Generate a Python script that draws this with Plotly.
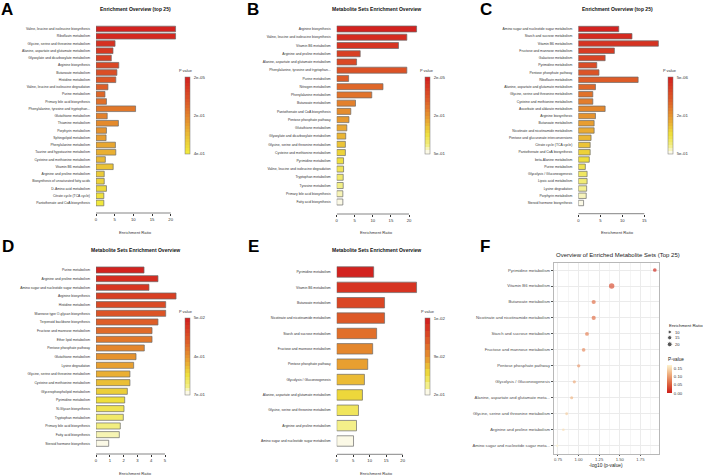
import math
import plotly.graph_objects as go

W, H = 708, 476
FONT = "Liberation Sans, Arial, Helvetica, sans-serif"

# ---------------- data ----------------
A_names = ["Valine, leucine and isoleucine biosynthesis", "Riboflavin metabolism",
           "Glycine, serine and threonine metabolism", "Alanine, aspartate and glutamate metabolism",
           "Glyoxylate and dicarboxylate metabolism", "Arginine biosynthesis", "Butanoate metabolism",
           "Histidine metabolism", "Valine, leucine and isoleucine degradation", "Purine metabolism",
           "Primary bile acid biosynthesis", "Phenylalanine, tyrosine and tryptophan...",
           "Glutathione metabolism", "Thiamine metabolism", "Porphyrin metabolism",
           "Sphingolipid metabolism", "Phenylalanine metabolism", "Taurine and hypotaurine metabolism",
           "Cysteine and methionine metabolism", "Vitamin B6 metabolism", "Arginine and proline metabolism",
           "Biosynthesis of unsaturated fatty acids", "D-Amino acid metabolism",
           "Citrate cycle (TCA cycle)", "Pantothenate and CoA biosynthesis"]
A_ratio = [21.3, 21.3, 5.1, 4.55, 4.1, 6.1, 5.6, 5.3, 3.2, 2.4, 2.8, 10.6, 3.0, 6.0, 2.8, 2.7,
           5.2, 5.3, 2.5, 4.6, 2.2, 2.2, 2.8, 2.1, 2.1]
A_pvalue = [2.1e-05, 4.5e-05, 0.0021, 0.0093, 0.018, 0.025, 0.034, 0.046, 0.071, 0.098, 0.13, 0.16,
            0.19, 0.21, 0.23, 0.25, 0.26, 0.28, 0.30, 0.31, 0.33, 0.34, 0.36, 0.38, 0.41]

B_names = ["Arginine biosynthesis", "Valine, leucine and isoleucine biosynthesis", "Vitamin B6 metabolism",
           "Arginine and proline metabolism", "Alanine, aspartate and glutamate metabolism",
           "Phenylalanine, tyrosine and tryptophan...", "Purine metabolism", "Nitrogen metabolism",
           "Phenylalanine metabolism", "Butanoate metabolism", "Pantothenate and CoA biosynthesis",
           "Pentose phosphate pathway", "Glutathione metabolism", "Glyoxylate and dicarboxylate metabolism",
           "Glycine, serine and threonine metabolism", "Cysteine and methionine metabolism",
           "Pyrimidine metabolism", "Valine, leucine and isoleucine degradation", "Tryptophan metabolism",
           "Tyrosine metabolism", "Primary bile acid biosynthesis", "Fatty acid biosynthesis"]
B_ratio = [22.1, 19.4, 17.1, 6.5, 5.5, 19.4, 3.3, 12.8, 9.7, 5.2, 3.9, 3.4, 2.8, 2.5, 2.4, 2.4,
           1.9, 1.9, 1.8, 1.8, 1.7, 1.7]
B_pvalue = [1.8e-05, 6.2e-05, 0.00041, 0.0076, 0.021, 0.039, 0.058, 0.081, 0.11, 0.15, 0.19, 0.24,
            0.27, 0.31, 0.34, 0.37, 0.40, 0.42, 0.44, 0.46, 0.48, 0.51]

C_names = ["Amino sugar and nucleotide sugar metabolism", "Starch and sucrose metabolism",
           "Vitamin B6 metabolism", "Fructose and mannose metabolism", "Galactose metabolism",
           "Pyrimidine metabolism", "Pentose phosphate pathway", "Riboflavin metabolism",
           "Alanine, aspartate and glutamate metabolism", "Glycine, serine and threonine metabolism",
           "Cysteine and methionine metabolism", "Ascorbate and aldarate metabolism", "Arginine biosynthesis",
           "Butanoate metabolism", "Nicotinate and nicotinamide metabolism",
           "Pentose and glucuronate interconversions", "Citrate cycle (TCA cycle)",
           "Pantothenate and CoA biosynthesis", "beta-Alanine metabolism", "Purine metabolism",
           "Glycolysis / Gluconeogenesis", "Lipoic acid metabolism", "Lysine degradation",
           "Porphyrin metabolism", "Steroid hormone biosynthesis"]
C_ratio = [9.2, 12.2, 18.2, 8.2, 6.1, 4.2, 4.7, 13.6, 3.9, 3.3, 3.3, 6.1, 3.9, 3.6, 3.6, 2.9, 2.7,
           2.7, 2.5, 1.6, 2.0, 2.0, 1.9, 1.8, 1.2]
C_pvalue = [4.9e-06, 2.3e-05, 8.1e-05, 0.00052, 0.0034, 0.012, 0.027, 0.046, 0.072, 0.10, 0.13, 0.16,
            0.19, 0.22, 0.25, 0.28, 0.31, 0.33, 0.36, 0.38, 0.40, 0.42, 0.44, 0.47, 0.52]

D_names = ["Purine metabolism", "Arginine and proline metabolism", "Amino sugar and nucleotide sugar metabolism",
           "Arginine biosynthesis", "Histidine metabolism", "Mannose type O-glycan biosynthesis",
           "Terpenoid backbone biosynthesis", "Fructose and mannose metabolism", "Ether lipid metabolism",
           "Pentose phosphate pathway", "Glutathione metabolism", "Lysine degradation",
           "Glycine, serine and threonine metabolism", "Cysteine and methionine metabolism",
           "Glycerophospholipid metabolism", "Pyrimidine metabolism", "N-Glycan biosynthesis",
           "Tryptophan metabolism", "Primary bile acid biosynthesis", "Fatty acid biosynthesis",
           "Steroid hormone biosynthesis"]
D_ratio = [3.48, 4.49, 3.84, 5.8, 5.05, 5.05, 4.49, 4.06, 4.06, 3.5, 2.9, 2.73, 2.46, 2.46, 2.27,
           2.08, 2.03, 1.98, 1.76, 1.69, 0.92]
D_pvalue = [0.048, 0.071, 0.094, 0.12, 0.15, 0.18, 0.21, 0.25, 0.29, 0.33, 0.37, 0.41, 0.45, 0.49,
            0.53, 0.56, 0.59, 0.62, 0.65, 0.68, 0.71]

E_names = ["Pyrimidine metabolism", "Vitamin B6 metabolism", "Butanoate metabolism",
           "Nicotinate and nicotinamide metabolism", "Starch and sucrose metabolism",
           "Fructose and mannose metabolism", "Pentose phosphate pathway", "Glycolysis / Gluconeogenesis",
           "Alanine, aspartate and glutamate metabolism", "Glycine, serine and threonine metabolism",
           "Arginine and proline metabolism", "Amino sugar and nucleotide sugar metabolism"]
E_ratio = [11.2, 24.2, 14.5, 14.5, 12.1, 10.9, 9.4, 8.4, 7.8, 6.6, 6.0, 5.1]
E_pvalue = [0.0119, 0.0397, 0.0656, 0.0656, 0.0791, 0.0869, 0.0998, 0.1127, 0.1213, 0.1396, 0.1531, 0.182]

F_size_legend = [10, 15, 20]
F_cbar_ticks = [0.0, 0.05, 0.10, 0.15]

# ---------------- styling helpers ----------------
HEAT_A = [(0.0, '#d3221f'), (0.3, '#dc5727'), (0.6, '#e6962d'), (0.8, '#ebc536'), (1.0, '#f1e83c')]
HEAT = [(0.0, '#d3221f'), (0.3, '#de5e28'), (0.55, '#e8a030'), (0.75, '#eede3c'),
        (0.9, '#f2ee80'), (1.0, '#fbf9e6')]


def hex2rgb(h):
    h = h.lstrip('#')
    return tuple(int(h[i:i + 2], 16) for i in (0, 2, 4))


def ramp(stops, n):
    out = []
    for k in range(n):
        t = k / (n - 1) if n > 1 else 0.0
        for (p0, c0), (p1, c1) in zip(stops[:-1], stops[1:]):
            if p0 <= t <= p1 + 1e-9:
                f = (t - p0) / (p1 - p0)
                a, b = hex2rgb(c0), hex2rgb(c1)
                out.append('rgb(%d,%d,%d)' % tuple(round(a[i] + (b[i] - a[i]) * f) for i in range(3)))
                break
    return out


def px(x):
    return x / W


def py(y):
    return 1 - y / H


def ann(text, x, y, size, bold=False, xanchor='center', color='#111111'):
    return dict(text=("<b>%s</b>" % text) if bold else text, x=px(x), y=py(y),
                xref='paper', yref='paper', showarrow=False, xanchor=xanchor, yanchor='middle',
                font=dict(family=FONT, size=size, color=color))


panels = [
    dict(names=A_names, ratio=A_ratio, p=A_pvalue, stops=HEAT_A, x0=96, ppu=3.735, xmax=22.5,
         row0=29, rowN=203, axis_y=213, ticks=[0, 5, 10, 15, 20], bw=0.78, cbx=185, cby=77,
         title="Enrichment Overview (top 25)", tx=135, ty=8.5, ex=135, ey=232, pvx=185, pvy=70,
         letter="A", lx=7, ly=9),
    dict(names=B_names, ratio=B_ratio, p=B_pvalue, stops=HEAT, x0=336.7, ppu=3.615, xmax=23,
         row0=29, rowN=202, axis_y=214, ticks=[0, 5, 10, 15, 20], bw=0.73, cbx=425.3, cby=77,
         title="Metabolite Sets Enrichment Overview", tx=376, ty=9, ex=376, ey=232, pvx=426.3, pvy=70,
         letter="B", lx=253, ly=9),
    dict(names=C_names, ratio=C_ratio, p=C_pvalue, stops=HEAT, x0=578.3, ppu=4.4, xmax=19,
         row0=29, rowN=203, axis_y=213.7, ticks=[0, 5, 10, 15], bw=0.75, cbx=667.7, cby=77,
         title="Enrichment Overview (top 25)", tx=617.7, ty=8.5, ex=617.7, ey=232, pvx=669, pvy=70,
         letter="C", lx=486, ly=9),
    dict(names=D_names, ratio=D_ratio, p=D_pvalue, stops=HEAT, x0=96, ppu=13.8, xmax=6.2,
         row0=270, rowN=443.3, axis_y=454, ticks=[0, 1, 2, 3, 4, 5], bw=0.7, cbx=185, cby=317.7,
         title="Metabolite Sets Enrichment Overview", tx=135, ty=250, ex=135, ey=473, pvx=185, pvy=311,
         letter="D", lx=7.5, ly=246),
    dict(names=E_names, ratio=E_ratio, p=E_pvalue, stops=HEAT, x0=336.7, ppu=3.3, xmax=25,
         row0=272, rowN=441, axis_y=454.3, ticks=[0, 5, 10, 15, 20], bw=0.68, cbx=425.3, cby=318,
         title="Metabolite Sets Enrichment Overview", tx=376, ty=250, ex=376, ey=473, pvx=427.7, pvy=311,
         letter="E", lx=253, ly=246),
]

fig = go.Figure()
layout = dict(width=W, height=H, margin=dict(l=0, r=0, t=0, b=0), paper_bgcolor='white',
              plot_bgcolor='rgba(0,0,0,0)', showlegend=False, template='none',
              font=dict(family=FONT, color='#222222'))
annotations = []
shapes = []

for i, P in enumerate(panels, start=1):
    sfx = '' if i == 1 else str(i)
    n = len(P['names'])
    s = (P['rowN'] - P['row0']) / (n - 1)
    top_px = P['row0'] - 0.7 * s
    bot_val = (n - 1) + (P['axis_y'] - P['rowN']) / s
    colors = ramp(P['stops'], n)
    cscale = []
    for k in range(n):
        c = colors[n - 1 - k]
        cscale.append([k / n, c])
        cscale.append([(k + 1) / n, c])
    cval = [n - 1 - r for r in range(n)]
    mid = (n - 1) // 2
    fig.add_trace(go.Bar(
        x=P['ratio'], y=P['names'], orientation='h', width=P['bw'],
        marker=dict(color=cval, coloraxis='coloraxis' + sfx, line=dict(color='#6a6a6a', width=0.7)),
        xaxis='x' + sfx, yaxis='y' + sfx, hoverinfo='x+y'))
    layout['xaxis' + sfx] = dict(
        domain=[px(P['x0']), px(P['x0'] + P['xmax'] * P['ppu'])], range=[0, P['xmax']],
        anchor='y' + sfx, showgrid=False, zeroline=False, showline=False,
        tickmode='array', tickvals=P['ticks'], ticktext=[str(t) for t in P['ticks']],
        ticks='outside', ticklen=2, tickwidth=0.6, tickcolor='#333333',
        tickfont=dict(family=FONT, size=4.2, color='#333333'))
    layout['yaxis' + sfx] = dict(
        domain=[py(P['axis_y']), py(top_px)], type='category', range=[bot_val, -0.7],
        anchor='x' + sfx, showgrid=False, zeroline=False, showline=False, ticks='',
        tickmode='linear', tick0=0, dtick=1, ticklabelstandoff=5,
        tickfont=dict(family=FONT, size=3.4, color='#333333'))
    layout['coloraxis' + sfx] = dict(
        colorscale=cscale, cmin=-0.5, cmax=n - 0.5, showscale=True,
        colorbar=dict(x=px(P['cbx']), xanchor='left', y=py(P['cby']), yanchor='top',
                      len=77, lenmode='pixels', thickness=5, thicknessmode='pixels',
                      xpad=0, ypad=0, outlinewidth=0.5, outlinecolor='#777777',
                      tickmode='array',
                      tickvals=[n - 0.5 - 0.002 * n, (n - 1) / 2, -0.5 + 0.002 * n],
                      ticktext=["%.0e" % P['p'][0], "%.0e" % P['p'][mid], "%.0e" % P['p'][-1]],
                      ticks='outside', ticklen=3, tickcolor='rgba(0,0,0,0)',
                      tickfont=dict(family=FONT, size=4.4, color='#333333'),
                      title=dict(text='')))
    shapes.append(dict(type='line', xref='x' + sfx, yref='y%s domain' % sfx,
                       x0=P['ticks'][0], x1=P['ticks'][-1], y0=0, y1=0,
                       line=dict(color='#333333', width=0.6)))
    annotations.append(ann(P['title'], P['tx'], P['ty'], 5, bold=True))
    annotations.append(ann("Enrichment Ratio", P['ex'], P['ey'], 4.2, color='#333333'))
    annotations.append(ann("P value", P['pvx'], P['pvy'], 3.9, color='#333333'))
    annotations.append(ann(P['letter'], P['lx'], P['ly'], 17, bold=True, color='#000000'))

# ---------------- panel F: dot plot ----------------
F_names = [nm if len(nm) <= 40 else nm[:37] + '...' for nm in E_names]
F_x = [-math.log10(p) for p in E_pvalue]
F_sizes = [1.1 * math.sqrt(r) for r in E_ratio]
fig.add_trace(go.Scatter(
    x=F_x, y=F_names, mode='markers', xaxis='x6', yaxis='y6',
    marker=dict(size=F_sizes, color=E_pvalue, coloraxis='coloraxis6', line=dict(width=0)),
    cliponaxis=False))
n6 = len(F_names)
major = [0.75, 1.0, 1.25, 1.5, 1.75]
layout['xaxis6'] = dict(
    domain=[px(553.7), px(659.3)], range=[0.698, 1.979], anchor='y6',
    tickmode='array', tickvals=major, ticktext=['%.2f' % v for v in major],
    showgrid=True, gridcolor='#ebebeb', gridwidth=0.5, zeroline=False,
    minor=dict(tickmode='array', tickvals=[0.875, 1.125, 1.375, 1.625, 1.875], showgrid=True,
               gridcolor='#f5f5f5', gridwidth=0.4, ticks=''),
    showline=True, mirror=True, linecolor='#b8b8b8', linewidth=0.6,
    ticks='outside', ticklen=1.5, tickwidth=0.5, tickcolor='#555555',
    tickfont=dict(family=FONT, size=4.2, color='#4d4d4d'))
layout['yaxis6'] = dict(
    domain=[py(454), py(263)], type='category', range=[n6 - 1 + 0.52, -0.44], anchor='x6',
    showgrid=True, gridcolor='#ebebeb', gridwidth=0.5, zeroline=False,
    showline=True, mirror=True, linecolor='#b8b8b8', linewidth=0.6,
    tickmode='linear', tick0=0, dtick=1,
    ticks='outside', ticklen=2, tickwidth=0.5, tickcolor='#555555',
    tickfont=dict(family=FONT, size=4.2, color='#4d4d4d'))
layout['coloraxis6'] = dict(
    colorscale=[[0.0, '#cc1f1a'], [0.35, '#df6a44'], [0.7, '#f0b585'], [1.0, '#fdf3cf']],
    cmin=0.0, cmax=0.17, showscale=True,
    colorbar=dict(x=px(666.7), xanchor='left', y=py(365), yanchor='top', len=28.3, lenmode='pixels',
                  thickness=4.6, thicknessmode='pixels', xpad=0, ypad=0, outlinewidth=0,
                  tickmode='array', tickvals=F_cbar_ticks, ticktext=['%.2f' % v for v in F_cbar_ticks],
                  ticks='outside', ticklen=1.5, tickcolor='rgba(0,0,0,0)',
                  tickfont=dict(family=FONT, size=4.3, color='#333333'), title=dict(text='')))

# size legend drawn on a pixel-coordinate overlay axis
leg_y = [332, 337.7, 344.3]
fig.add_trace(go.Scatter(
    x=[669.7] * len(F_size_legend), y=leg_y, mode='markers', xaxis='x7', yaxis='y7',
    marker=dict(size=[1.1 * math.sqrt(v) for v in F_size_legend], color='#111111'),
    hoverinfo='skip', cliponaxis=False))
layout['xaxis7'] = dict(domain=[0, 1], range=[0, W], visible=False, anchor='y7', fixedrange=True)
layout['yaxis7'] = dict(domain=[0, 1], range=[H, 0], visible=False, anchor='x7', fixedrange=True)
for v, yy in zip(F_size_legend, leg_y):
    annotations.append(ann(str(v), 672.5, yy, 4.1, xanchor='left', color='#333333'))
annotations.append(ann("Enrichment Ratio", 666.5, 325.3, 4.4, xanchor='left', color='#222222'))
annotations.append(ann("P-value", 666.3, 359.3, 4.7, xanchor='left', color='#222222'))
annotations.append(ann("Overview of Enriched Metabolite Sets (Top 25)", 553.7, 255.3, 6,
                       xanchor='left', color='#222222'))
annotations.append(ann("-log10 (p-value)", 606.3, 465.5, 4.8, color='#222222'))
annotations.append(ann("F", 485, 246, 17, bold=True, color='#000000'))

layout['annotations'] = annotations
layout['shapes'] = shapes
fig.update_layout(**layout)
fig.write_html("out.html")
